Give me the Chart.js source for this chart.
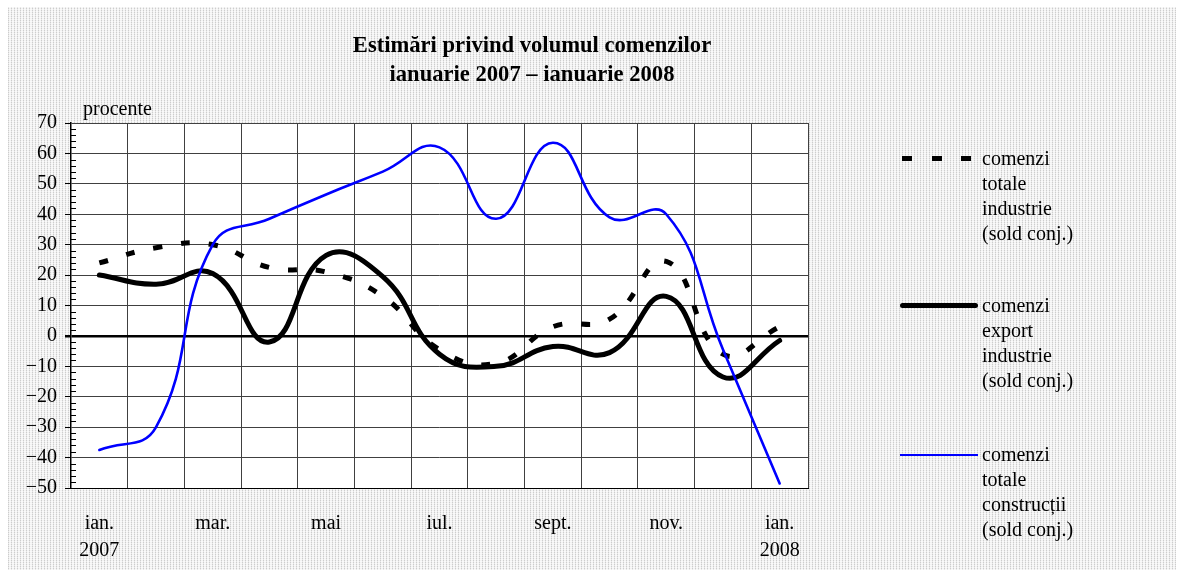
<!DOCTYPE html>
<html>
<head>
<meta charset="utf-8">
<script src="https://cdn.jsdelivr.net/npm/chart.js@4.4.1/dist/chart.umd.min.js"></script>
<style>
html,body{margin:0;padding:0;background:#fff;width:1184px;height:577px;overflow:hidden;font-family:"Liberation Serif","Times New Roman",serif;color:#000}
#bg{position:absolute;left:8px;top:7px;width:1168px;height:563px;background-color:#f3f3f3;
 background-image:repeating-linear-gradient(0deg,rgba(255,255,255,0.55) 0 1px,rgba(255,255,255,0) 1px 2px),repeating-linear-gradient(90deg,#cdcdcd 0 1px,rgba(0,0,0,0) 1px 3px)}
#wrap{position:absolute;left:0;top:0;width:1184px;height:577px}
.t{position:absolute;white-space:nowrap}
#title{left:282px;width:500px;top:30px;text-align:center;font-weight:bold;font-size:22.6px;line-height:29px}
#unit{left:83px;top:98px;font-size:20px;line-height:20px}
.lg{position:absolute;left:982px;font-size:20px;line-height:25px;white-space:nowrap}
.sw{position:absolute}
</style>
</head>
<body>
<div id="bg"></div>
<div id="wrap"><canvas id="c" width="1184" height="577"></canvas></div>
<div class="t" id="title">Estimări privind volumul comenzilor<br>ianuarie 2007 – ianuarie 2008</div>
<div class="t" id="unit">procente</div>

<div class="sw" style="left:902px;top:156px;width:10px;height:5px;background:#000"></div>
<div class="sw" style="left:932px;top:156px;width:10px;height:5px;background:#000"></div>
<div class="sw" style="left:961px;top:156px;width:10px;height:5px;background:#000"></div>
<div class="lg" style="top:146px">comenzi<br>totale<br>industrie<br>(sold conj.)</div>

<div class="sw" style="left:900px;top:303px;width:78px;height:5px;background:#000;border-radius:3px"></div>
<div class="lg" style="top:293px">comenzi<br>export<br>industrie<br>(sold conj.)</div>

<div class="sw" style="left:900px;top:454px;width:78px;height:2px;background:#0000ff"></div>
<div class="lg" style="top:442px">comenzi<br>totale<br>construcții<br>(sold conj.)</div>

<script>
const categories = ['ian. 2007','feb.','mar.','apr.','mai','iun.','iul.','aug.','sept.','oct.','nov.','dec.','ian. 2008'];
const tickLabels = [['ian.','2007'],'','mar.','','mai','','iul.','','sept.','','nov.','',['ian.','2008']];
const totalIndustrie   = [24, 29, 30, 22.5, 21, 13, -4.5, -9, 3, 5.5, 24.5, -6, 3];
const exportIndustrie  = [20, 17, 20.5, -2, 26.5, 19.5, -6, -10, -3.5, -5.5, 13, -13.5, -1.5];
const totalConstructii = [-37.5, -30, 30, 38.5, 46.5, 54, 62, 38.5, 63.5, 39, 40, -4.5, -48.5];
const yMin = -50, yMax = 70, yStep = 10, yMinorStep = 2;

Chart.defaults.font.family = '"Liberation Serif","Times New Roman",serif';
Chart.defaults.color = '#000';

const plotBg = {
  id:'plotBg',
  beforeDraw(chart){
    const a = chart.chartArea, c = chart.ctx;
    c.save(); c.fillStyle = '#fff'; c.fillRect(a.left, a.top, a.right-a.left, a.bottom-a.top); c.restore();
  }
};
const minorTicks = {
  id:'minorTicks',
  beforeDatasetsDraw(chart){
    const y = chart.scales.y, a = chart.chartArea, c = chart.ctx;
    c.save(); c.strokeStyle = '#000'; c.lineWidth = 1;
    for (let v = yMin; v <= yMax; v += yMinorStep){
      if (v % yStep === 0) continue;
      const py = Math.round(y.getPixelForValue(v)) + 0.5;
      c.beginPath(); c.moveTo(a.left, py); c.lineTo(a.left + 5, py); c.stroke();
    }
    c.restore();
  }
};

new Chart(document.getElementById('c'), {
  type:'line',
  data:{
    labels: categories,
    datasets:[
      {label:'comenzi totale industrie (sold conj.)', data:totalIndustrie, borderColor:'#000', borderWidth:5, borderDash:[9,19], borderCapStyle:'butt', tension:0.45, pointRadius:0, fill:false, order:3},
      {label:'comenzi export industrie (sold conj.)', data:exportIndustrie, borderColor:'#000', borderWidth:5, borderCapStyle:'round', tension:0.45, pointRadius:0, fill:false, order:2},
      {label:'comenzi totale construcții (sold conj.)', data:totalConstructii, borderColor:'#0000ff', borderWidth:2.6, borderCapStyle:'round', tension:0.45, pointRadius:0, fill:false, order:1}
    ]
  },
  options:{
    responsive:false,
    animation:false,
    layout:{padding:{left:0, top:123, right:376, bottom:0}},
    plugins:{legend:{display:false}, tooltip:{enabled:false}, title:{display:false}},
    scales:{
      x:{
        type:'category', offset:true,
        grid:{offset:true, color:'#404040', lineWidth:1, drawTicks:false},
        border:{color:'#000', width:1},
        ticks:{autoSkip:false, maxRotation:0, minRotation:0, padding:22, color:'#000',
               font:{size:20, lineHeight:1.35}, callback:(v,i)=>tickLabels[i]},
        afterFit:s=>{s.height=89;}
      },
      y:{
        min:yMin, max:yMax,
        ticks:{stepSize:yStep, padding:8, color:'#000', font:{size:20},
               callback:v=> v<0 ? '\u2212'+Math.abs(v) : String(v)},
        grid:{color:c=>(c.tick && c.tick.value===0)?'#000':'#404040',
              lineWidth:c=>(c.tick && c.tick.value===0)?2.5:1,
              tickLength:6, tickColor:'#000', drawTicks:true},
        border:{color:'#000', width:1.5},
        afterFit:s=>{s.width=71;}
      }
    }
  },
  plugins:[plotBg, minorTicks]
});
</script>
</body>
</html>
